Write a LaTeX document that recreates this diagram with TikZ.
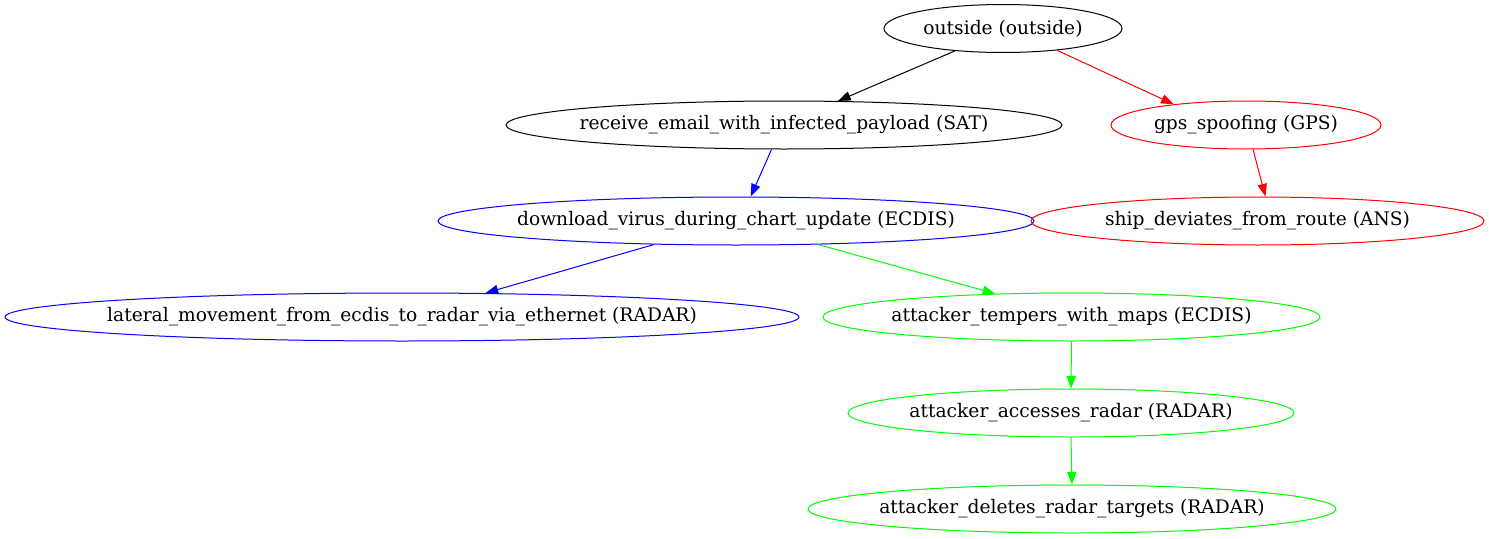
\documentclass[tikz,border=0pt]{standalone}
\usepackage{fontspec}
\setmainfont{DejaVu Serif}
\usetikzlibrary{arrows.meta,shapes.geometric}
\definecolor{gvgreen}{HTML}{00FF00}
\definecolor{gvblue}{HTML}{0000FF}
\definecolor{gvred}{HTML}{FF0000}
\tikzset{
  gvnode/.style={ellipse, draw, line width=0.75pt, inner sep=0pt, minimum height=36pt,
    label={[font=\fontsize{14}{16}\selectfont, inner sep=0pt, text=black]center:#1}},
  gvedge/.style={line width=0.75pt, -{Triangle[length=9.5pt,width=7pt]}}
}
\begin{document}
\begin{tikzpicture}[x=0.75pt,y=-0.75pt]
\useasboundingbox (0,0) rectangle (1489,539);
\node[gvnode={outside (outside)}, minimum width=178.5pt] (outside) at (1003,28.5) {};
\node[gvnode={receive\_email\_with\_infected\_payload (SAT)}, minimum width=417pt] (email) at (784,125) {};
\node[gvnode={gps\_spoofing (GPS)}, draw=gvred, minimum width=202.5pt] (gps) at (1246,125) {};
\node[gvnode={download\_virus\_during\_chart\_update (ECDIS)}, draw=gvblue, minimum width=447pt] (download) at (736,221) {};
\node[gvnode={ship\_deviates\_from\_route (ANS)}, draw=gvred, minimum width=339.75pt] (ship) at (1257.5,221) {};
\node[gvnode={lateral\_movement\_from\_ecdis\_to\_radar\_via\_ethernet (RADAR)}, draw=gvblue, minimum width=595.5pt] (lateral) at (402,317) {};
\node[gvnode={attacker\_tempers\_with\_maps (ECDIS)}, draw=gvgreen, minimum width=372.75pt] (tempers) at (1071.5,317) {};
\node[gvnode={attacker\_accesses\_radar (RADAR)}, draw=gvgreen, minimum width=334.5pt] (accesses) at (1071,413) {};
\node[gvnode={attacker\_deletes\_radar\_targets (RADAR)}, draw=gvgreen, minimum width=396pt] (deletes) at (1072,509) {};

\draw[gvedge] (outside.205.1) -- (email.24.8);
\draw[gvedge, gvred] (outside.338.3) -- (gps.164.8);
\draw[gvedge, gvblue] (email.243.4) -- (download.59.7);
\draw[gvedge, gvred] (gps.286.3) -- (ship.72.6);
\draw[gvedge, gvblue] (download.196.9) -- (lateral.16.0);
\draw[gvedge, gvgreen] (download.344.1) -- (tempers.163.7);
\draw[gvedge, gvgreen] (tempers.south) -- (accesses.north);
\draw[gvedge, gvgreen] (accesses.south) -- (deletes.north);
\end{tikzpicture}
\end{document}
